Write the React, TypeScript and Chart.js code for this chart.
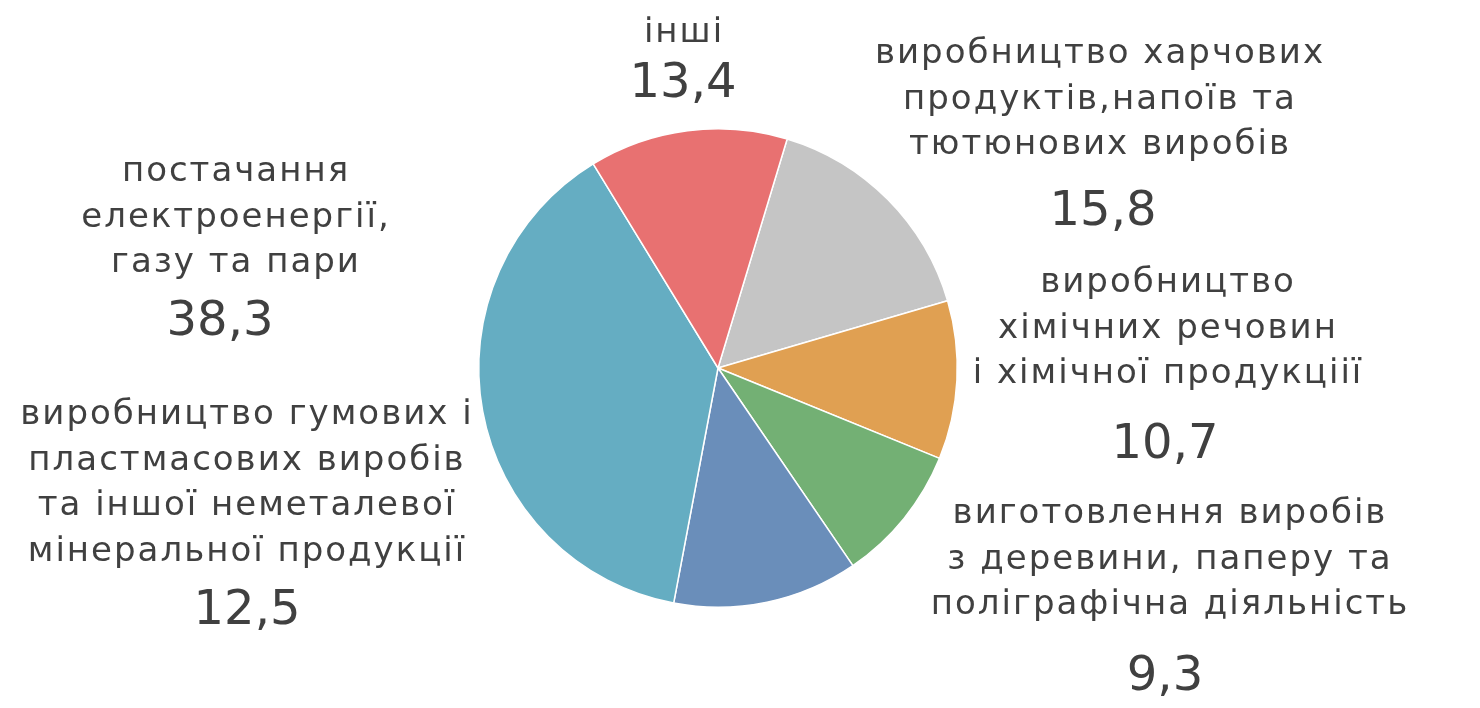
import React, { useEffect, useRef } from "react";
import { Chart, registerables } from "chart.js";

Chart.register(...registerables);

const categories: string[][] = [
  ["виробництво харчових", "продуктів,напоїв та", "тютюнових виробів"],
  ["виробництво", "хімічних речовин", "і хімічної продукціії"],
  ["виготовлення виробів", "з деревини, паперу та", "поліграфічна діяльність"],
  ["виробництво гумових і", "пластмасових виробів", "та іншої неметалевої", "мінеральної продукції"],
  ["постачання", "електроенергії,", "газу та пари"],
  ["інші"],
];
const values: number[] = [15.8, 10.7, 9.3, 12.5, 38.3, 13.4];
const valueLabels: string[] = ["15,8", "10,7", "9,3", "12,5", "38,3", "13,4"];
const colors: string[] = ["#C5C5C5", "#E0A052", "#73B074", "#6A8EBA", "#65ADC2", "#E87171"];

// label block layout: text center x, first-line baseline, number center x, number baseline
const labelLayout = [
  { x: 1100, y: 63, nx: 1103, ny: 225 },
  { x: 1168, y: 292, nx: 1165, ny: 458 },
  { x: 1170, y: 523, nx: 1165, ny: 690 },
  { x: 247, y: 424, nx: 247, ny: 624 },
  { x: 236, y: 181, nx: 220, ny: 335 },
  { x: 684, y: 42, nx: 683, ny: 97 },
];

const FONT = "'DejaVu Sans', Verdana, sans-serif";

const labelPlugin = {
  id: "customLabels",
  afterDraw(chart: any) {
    const ctx = chart.ctx;
    ctx.save();
    ctx.fillStyle = "#404040";
    ctx.textAlign = "center";
    ctx.textBaseline = "alphabetic";
    categories.forEach((lines, i) => {
      const L = labelLayout[i];
      ctx.font = `34px ${FONT}`;
      (ctx as any).letterSpacing = "2px";
      lines.forEach((ln, j) => {
        ctx.fillText(ln, L.x, L.y + j * 45.5);
      });
      ctx.font = `48px ${FONT}`;
      (ctx as any).letterSpacing = "0px";
      ctx.fillText(valueLabels[i], L.nx, L.ny);
    });
    ctx.restore();
  },
};

export default function App() {
  const ref = useRef<HTMLCanvasElement | null>(null);
  useEffect(() => {
    document.body.style.margin = "0";
    const chart = new Chart(ref.current!, {
      type: "pie",
      data: {
        labels: categories.map((c) => c.join(" ")),
        datasets: [
          {
            data: values,
            backgroundColor: colors,
            borderColor: "#FFFFFF",
            borderWidth: 1.5,
          },
        ],
      },
      options: {
        responsive: false,
        animation: false,
        rotation: 16.8,
        layout: { padding: { left: 478, right: 522, top: 128, bottom: 100 } },
        plugins: { legend: { display: false }, tooltip: { enabled: false } },
      },
      plugins: [labelPlugin],
    });
    return () => chart.destroy();
  }, []);
  return (
    <div style={{ width: 1480, height: 708, background: "#fff" }}>
      <canvas ref={ref} width={1480} height={708} />
    </div>
  );
}
